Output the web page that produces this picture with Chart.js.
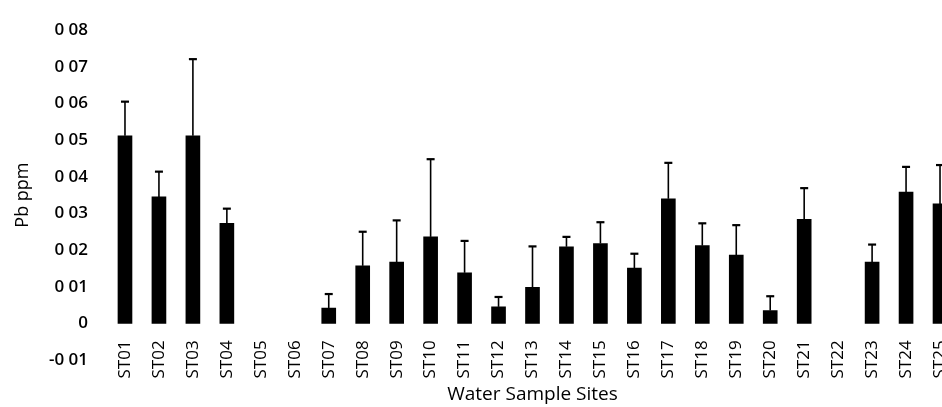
<!DOCTYPE html>
<html>
<head>
<meta charset="utf-8">
<script src="https://cdn.jsdelivr.net/npm/chart.js@4.4.1/dist/chart.umd.min.js"></script>
<style>
  html, body { margin: 0; padding: 0; background: #fff; overflow: hidden; }
  #wrap { width: 970px; height: 407px; }
</style>
</head>
<body>
<div id="wrap"><canvas id="pbChart" width="970" height="407"></canvas></div>
<script>
// Pb concentration per water sample site (mean and upper error)
const sites = ["ST01", "ST02", "ST03", "ST04", "ST05", "ST06", "ST07", "ST08", "ST09", "ST10",
               "ST11", "ST12", "ST13", "ST14", "ST15", "ST16", "ST17", "ST18", "ST19", "ST20",
               "ST21", "ST22", "ST23", "ST24", "ST25"];

const pbMean = [0.0512, 0.0345, 0.0512, 0.0273, 0, 0, 0.0042, 0.0157, 0.0167, 0.0236,
                0.0138, 0.0045, 0.0098, 0.0209, 0.0218, 0.0151, 0.0340, 0.0212, 0.0186, 0.0035,
                0.0284, 0, 0.0167, 0.0358, 0.0326];

const pbUpper = [0.0605, 0.0414, 0.0721, 0.0313, 0, 0, 0.0080, 0.0250, 0.0281, 0.0448,
                 0.0225, 0.0072, 0.0210, 0.0236, 0.0276, 0.0190, 0.0438, 0.0273, 0.0268, 0.0074,
                 0.0369, 0, 0.0215, 0.0427, 0.0432];

const yTickLabels = {"-0.01": "-0 01", "0": "0", "0.01": "0 01", "0.02": "0 02", "0.03": "0 03",
                     "0.04": "0 04", "0.05": "0 05", "0.06": "0 06", "0.07": "0 07", "0.08": "0 08"};

const errorBars = {
    id: "errorBars",
    afterLayout(chart) {
        // site labels sit just under the zero line, above the -0.01 tick
        chart.scales.x.top = chart.scales.y.getPixelForValue(0) + 17;
    },
    afterDatasetsDraw(chart) {
        const ctx = chart.ctx;
        const x = chart.scales.x;
        const y = chart.scales.y;
        ctx.save();
        ctx.strokeStyle = "#000";
        pbUpper.forEach((up, i) => {
            if (up <= pbMean[i]) return;
            const cx = x.getPixelForValue(i);
            const y0 = y.getPixelForValue(pbMean[i]);
            const y1 = y.getPixelForValue(up);
            ctx.lineWidth = 1.6;
            ctx.beginPath();
            ctx.moveTo(cx, y0);
            ctx.lineTo(cx, y1);
            ctx.stroke();
            ctx.lineWidth = 2.2;
            ctx.beginPath();
            ctx.moveTo(cx - 4, y1);
            ctx.lineTo(cx + 4, y1);
            ctx.stroke();
        });
        ctx.restore();
    }
};

new Chart(
    document.getElementById("pbChart"),
    {
        type: "bar",
        data: {
            labels: sites,
            datasets: [
                {
                    label: "Pb ppm",
                    data: pbMean.map(v => v === 0 ? null : v),
                    backgroundColor: "#000",
                    barThickness: 14
                }
            ]
        },
        options: {
            responsive: false,
            animation: false,
            layout: {
                padding: { top: 20, right: 13, bottom: 0, left: 12 }
            },
            plugins: {
                legend: { display: false },
                tooltip: { enabled: false }
            },
            scales: {
                x: {
                    grid: { display: false, drawTicks: false },
                    border: { display: false },
                    afterFit: scale => { scale.height = 47; },
                    ticks: {
                        color: "#000",
                        font: { family: "Open Sans", size: 17 },
                        minRotation: 90,
                        maxRotation: 90,
                        autoSkip: false,
                        padding: 0
                    },
                    title: {
                        display: true,
                        text: "Water Sample Sites",
                        color: "#000",
                        font: { family: "Open Sans", size: 19 },
                        padding: { top: 0, bottom: 1 }
                    }
                },
                y: {
                    min: -0.01,
                    max: 0.08,
                    grid: { display: false, drawTicks: false },
                    border: { display: false },
                    afterFit: scale => { scale.width = 96; },
                    ticks: {
                        stepSize: 0.01,
                        color: "#000",
                        font: { family: "Open Sans", size: 17, weight: "600" },
                        padding: 20,
                        callback: value => yTickLabels[String(Math.round(value * 100) / 100)]
                    },
                    title: {
                        display: true,
                        text: "Pb ppm",
                        color: "#000",
                        font: { family: "Open Sans", size: 18 },
                        padding: { top: 0, bottom: 0 }
                    }
                }
            }
        },
        plugins: [errorBars]
    }
);
</script>
</body>
</html>
